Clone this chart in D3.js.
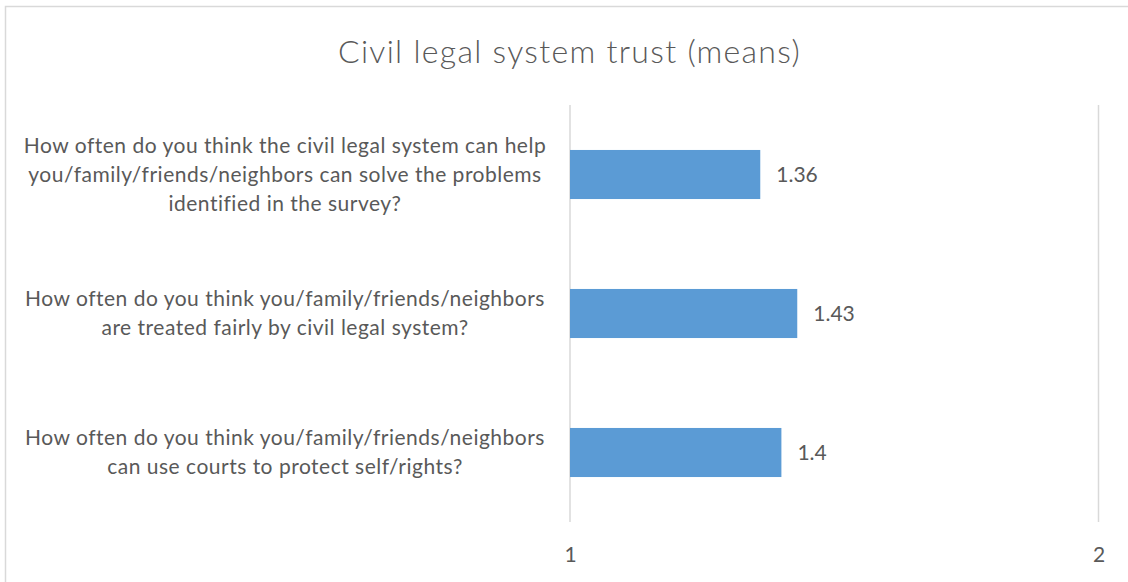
<!DOCTYPE html>
<html>
<head>
<meta charset="utf-8">
<script src="https://cdn.jsdelivr.net/npm/d3@7"></script>
<style>
  html, body { margin: 0; padding: 0; background: #fff; }
  svg { display: block; }
  text { font-family: Lato, "Open Sans", sans-serif; fill: #595959; }
</style>
</head>
<body>
<svg id="chart" width="1128" height="582"></svg>
<script>
// Survey questions (each entry is a list of wrapped lines)
const questions = [
  ["How often do you think the civil legal system can help",
   "you/family/friends/neighbors can solve the problems",
   "identified in the survey?"],
  ["How often do you think you/family/friends/neighbors",
   "are treated fairly by civil legal system?"],
  ["How often do you think you/family/friends/neighbors",
   "can use courts to protect self/rights?"]
];
const means = [1.36, 1.43, 1.4];
const xTicks = [1, 2];
const chartTitle = "Civil legal system trust (means)";

const svg = d3.select("#chart");
const W = 1128, H = 582;
const plot = { left: 570, right: 1098.5, top: 105, bottom: 522 };

// outer chart frame
svg.append("rect")
  .attr("x", 5.5).attr("y", 6.5)
  .attr("width", W).attr("height", H)
  .attr("fill", "#fff")
  .attr("stroke", "#d9d9d9").attr("stroke-width", 1.5);

const x = d3.scaleLinear().domain([1, 2]).range([plot.left, plot.right]);
const y = d3.scaleBand()
  .domain(d3.range(questions.length))
  .range([plot.top, plot.bottom])
  .paddingInner(0.647)
  .paddingOuter(0.3235);

// vertical gridlines
svg.append("g")
  .selectAll("line")
  .data(xTicks)
  .join("line")
  .attr("x1", d => x(d)).attr("x2", d => x(d))
  .attr("y1", plot.top).attr("y2", plot.bottom)
  .attr("stroke", "#d9d9d9").attr("stroke-width", 1.5);

// x axis tick labels
const xAxis = d3.axisBottom(x).tickValues(xTicks).tickFormat(d3.format("d")).tickSize(0).tickPadding(0);
const gx = svg.append("g").attr("transform", `translate(0,${plot.bottom})`).call(xAxis);
gx.select(".domain").remove();
gx.selectAll("text")
  .attr("y", 33).attr("dy", "0.35em")
  .style("font-size", "21px").style("font-family", "Lato, sans-serif")
  .attr("fill", "#595959");

// bars
svg.append("g")
  .selectAll("rect")
  .data(means)
  .join("rect")
  .attr("x", x(1))
  .attr("y", (d, i) => y(i))
  .attr("width", d => x(d) - x(1))
  .attr("height", y.bandwidth())
  .attr("fill", "#5B9BD5");

// value labels
svg.append("g")
  .selectAll("text")
  .data(means)
  .join("text")
  .attr("x", d => x(d) + 16)
  .attr("y", (d, i) => y(i) + y.bandwidth() / 2)
  .attr("dy", "0.35em")
  .style("font-size", "21px")
  .text(d => d);

// category labels, centred in the left margin
const lineH = 29;
const labelCenterX = 285;
svg.append("g")
  .selectAll("text")
  .data(questions)
  .join("text")
  .attr("text-anchor", "middle")
  .style("font-size", "21px")
  .style("letter-spacing", "0.5px")
  .each(function (lines, i) {
    const cy = y(i) + y.bandwidth() / 2;
    const t0 = cy - (lines.length - 1) * lineH / 2;
    d3.select(this).selectAll("tspan")
      .data(lines)
      .join("tspan")
      .attr("x", labelCenterX)
      .attr("y", (l, j) => t0 + j * lineH)
      .attr("dy", "0.35em")
      .text(l => l);
  });

// title
svg.append("text")
  .attr("x", 569.5).attr("y", 52)
  .attr("dy", "0.35em")
  .attr("text-anchor", "middle")
  .style("font-size", "32px")
  .style("font-weight", 300)
  .style("letter-spacing", "1.3px")
  .text(chartTitle);
</script>
</body>
</html>
